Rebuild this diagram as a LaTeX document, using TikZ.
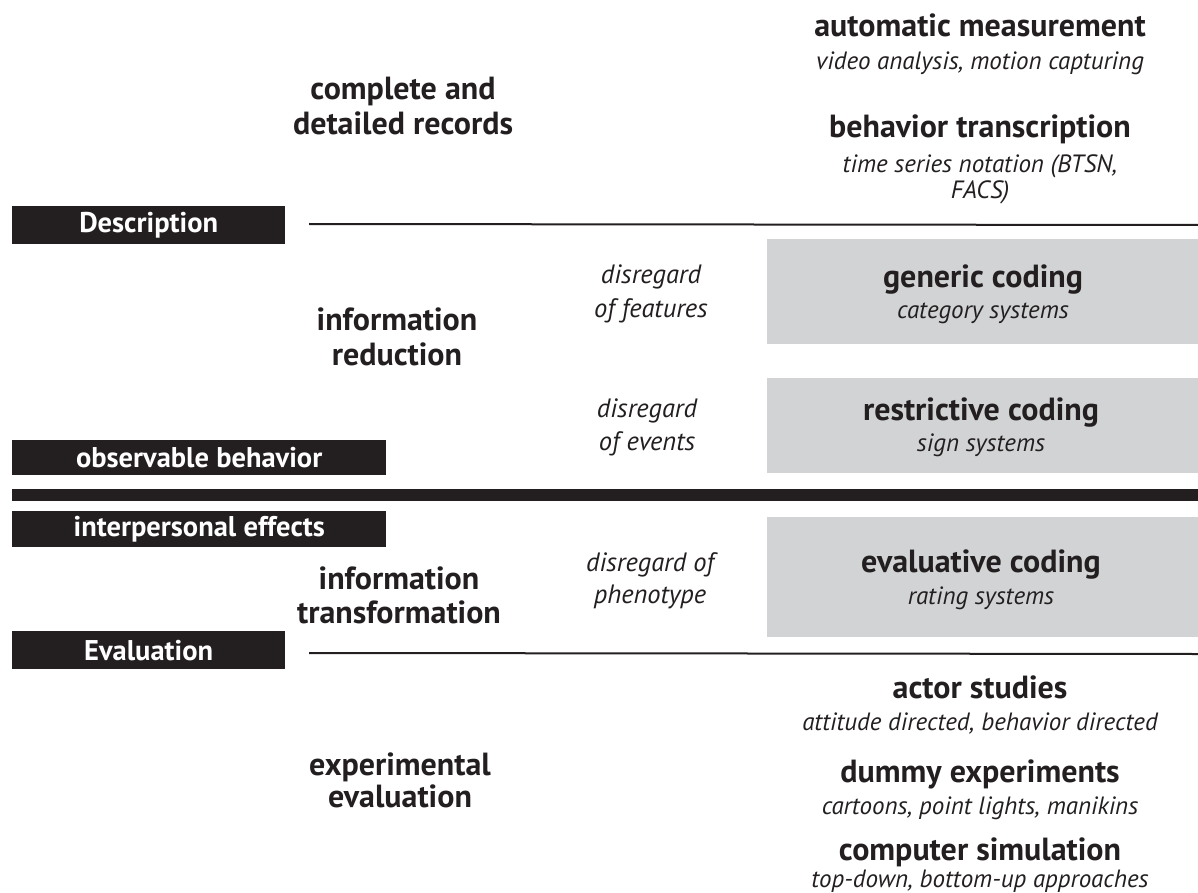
\documentclass[tikz,border=0pt]{standalone}
\usepackage{fontspec}
\setmainfont{PT Sans}
\definecolor{ink}{HTML}{231F20}
\definecolor{panel}{HTML}{D1D3D4}
\begin{document}
\begin{tikzpicture}[x=1pt,y=-1pt,
  head/.style={anchor=base, inner sep=0pt, text=ink, font=\fontsize{32}{38}\selectfont\bfseries},
  sub/.style={anchor=base, inner sep=0pt, text=ink, font=\fontsize{25}{30}\selectfont\itshape},
  note/.style={anchor=base, inner sep=0pt, text=ink, font=\fontsize{26.5}{31}\selectfont\itshape},
  tag/.style={anchor=north west, inner sep=0pt, fill=ink, text=white,
    font=\fontsize{28.5}{32}\selectfont\bfseries},
  panelbox/.style={anchor=north west, inner sep=0pt, fill=panel},
  rule/.style={draw=ink, line width=2pt},
  divider/.style={draw=ink, line width=12pt}
]
\useasboundingbox (0,0) rectangle (1198,893);

% grey coding panels
\node[panelbox, minimum width=431pt, minimum height=105pt] (generic) at (767,239) {};
\node[panelbox, minimum width=431pt, minimum height=95pt]  (restrict) at (767,378) {};
\node[panelbox, minimum width=431pt, minimum height=120pt] (evaluat) at (767,517) {};

% black category tags
\node[tag, minimum width=273pt, minimum height=38pt] (desc) at (12,206) {Description};
\node[tag, minimum width=374pt, minimum height=35pt] (obs)  at (12,440) {observable behavior};
\node[tag, minimum width=374pt, minimum height=36pt] (inter) at (12,511) {interpersonal effects};
\node[tag, minimum width=273pt, minimum height=38pt] (eval) at (12,631) {Evaluation};

% separating rules
\coordinate (r1a) at (309,224);
\coordinate (r1b) at (1198,225);
\coordinate (r2a) at (309,653);
\coordinate (r2b) at (1198,654);
\coordinate (bara) at (12,495);
\coordinate (barb) at (1198,495);
\draw[rule] (r1a) -- (r1b);
\draw[rule] (r2a) -- (r2b);
\draw[divider] (bara) -- (barb);

% description level
\node[head] (auto)  at (980,37)  {automatic measurement};
\node[sub]  (autos) at (980,70)  {video analysis, motion capturing};
\node[head] (trans) at (980,138) {behavior transcription};
\node[sub]  (tr1)   at (980,173) {time series notation (BTSN,};
\node[sub]  (tr2)   at (980,199) {FACS)};
\node[head] (comp1) at (403,100) {complete and};
\node[head] (comp2) at (403,135) {detailed records};

% reduction level
\node[head] (red1) at (397,330) {information};
\node[head] (red2) at (397,365) {reduction};
\node[note] (feat1) at (651,283) {disregard};
\node[note] (feat2) at (651,317) {of features};
\node[head] (genh) at (983,287) {generic coding};
\node[sub]  (gens) at (983,318) {category systems};
\node[note] (evt1) at (647,417) {disregard};
\node[note] (evt2) at (647,450) {of events};
\node[head] (resh) at (981,420) {restrictive coding};
\node[sub]  (ress) at (981,451) {sign systems};

% transformation level
\node[head] (tf1) at (399,589) {information};
\node[head] (tf2) at (399,623) {transformation};
\node[note] (ph1) at (650,571) {disregard of};
\node[note] (ph2) at (650,603) {phenotype};
\node[head] (evh) at (981,572) {evaluative coding};
\node[sub]  (evs) at (981,604) {rating systems};

% evaluation level
\node[head] (ex1) at (400,775) {experimental};
\node[head] (ex2) at (400,807) {evaluation};
\node[head] (act)  at (980,698) {actor studies};
\node[sub]  (acts) at (980,730) {attitude directed, behavior directed};
\node[head] (dum)  at (980,782) {dummy experiments};
\node[sub]  (dums) at (980,814) {cartoons, point lights, manikins};
\node[head] (sim)  at (980,860) {computer simulation};
\node[sub]  (sims) at (980,887) {top-down, bottom-up approaches};
\end{tikzpicture}
\end{document}
